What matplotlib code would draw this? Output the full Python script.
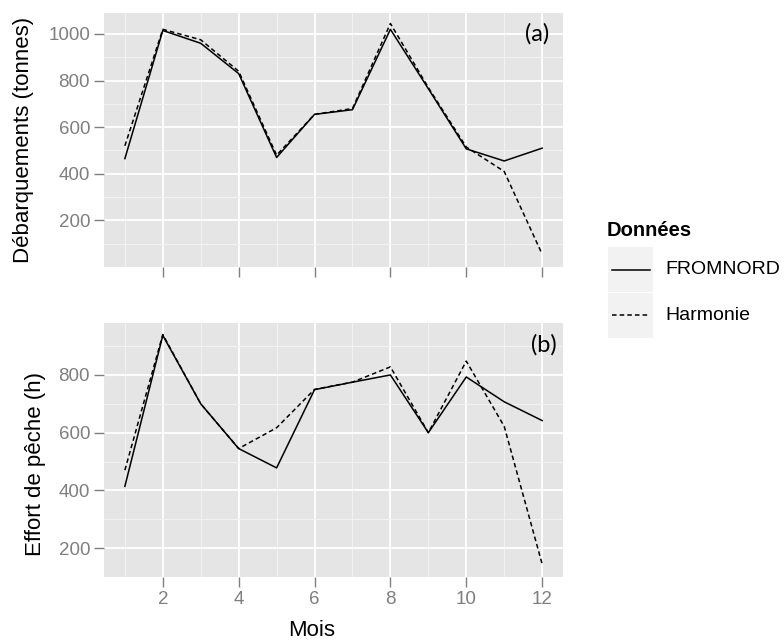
import matplotlib.pyplot as plt
from matplotlib.lines import Line2D
from matplotlib.patches import Rectangle

plt.rcParams['font.family'] = ['Liberation Sans', 'DejaVu Sans']

mois = [1, 2, 3, 4, 5, 6, 7, 8, 9, 10, 11, 12]
debarq_fromnord = [465, 1015, 960, 830, 470, 655, 675, 1020, 765, 507, 455, 510]
debarq_harmonie = [520, 1020, 975, 840, 480, 655, 680, 1045, 770, 515, 410, 55]
effort_fromnord = [414, 937, 700, 545, 478, 749, 775, 800, 600, 793, 707, 642]
effort_harmonie = [470, 940, 700, 545, 617, 750, 775, 828, 600, 848, 622, 145]
series_names = ['FROMNORD', 'Harmonie']
styles = ['-', (0, (3, 2))]

W, H = 784, 641
fig = plt.figure(figsize=(W / 100, H / 100), dpi=100)
ax1 = fig.add_axes([104 / W, 1 - 267 / H, 459 / W, 254 / H])
ax2 = fig.add_axes([104 / W, 1 - 577 / H, 459 / W, 254 / H])

grey = '#7F7F7F'


def style_axes(ax, yticks, yminor, ylim, show_xlabels):
    ax.set_facecolor('#E5E5E5')
    for s in ax.spines.values():
        s.set_visible(False)
    ax.set_xlim(0.45, 12.55)
    ax.set_ylim(*ylim)
    ax.set_xticks([2, 4, 6, 8, 10, 12])
    ax.set_xticks([1, 3, 5, 7, 9, 11], minor=True)
    ax.set_yticks(yticks)
    ax.set_yticks(yminor, minor=True)
    ax.grid(which='major', color='white', linewidth=1.3)
    ax.grid(which='minor', color='#F2F2F2', linewidth=0.8)
    ax.set_axisbelow(True)
    ax.tick_params(which='major', length=7, width=1, color=grey,
                   labelcolor=grey, labelsize=13.5, pad=3)
    ax.tick_params(which='minor', length=0)
    if not show_xlabels:
        ax.set_xticklabels([])


ax1.plot(mois, debarq_fromnord, color='black', linestyle=styles[0], linewidth=1.1)
ax1.plot(mois, debarq_harmonie, color='black', linestyle=styles[1], linewidth=1.1)
style_axes(ax1, [200, 400, 600, 800, 1000], [100, 300, 500, 700, 900],
           (0, 1090), False)

ax2.plot(mois, effort_fromnord, color='black', linestyle=styles[0], linewidth=1.1)
ax2.plot(mois, effort_harmonie, color='black', linestyle=styles[1], linewidth=1.1)
style_axes(ax2, [200, 400, 600, 800], [300, 500, 700, 900],
           (100, 980), True)

# axis titles placed where the reference has them
fig.text(24 / W, 1 - 140 / H, 'Débarquements (tonnes)', rotation=90,
         fontsize=16, ha='center', va='center')
fig.text(36 / W, 1 - 464 / H, 'Effort de pêche (h)', rotation=90,
         fontsize=16, ha='center', va='center')
fig.text(312 / W, 1 - 630 / H, 'Mois', fontsize=16, ha='center', va='center')

fig.text(537 / W, 1 - 34 / H, '(a)', fontsize=17, family='Lato',
         ha='center', va='center')
fig.text(544 / W, 1 - 345 / H, '(b)', fontsize=17, family='Lato',
         ha='center', va='center')

# legend drawn by hand, ggplot style
fig.text(607 / W, 1 - 230 / H, 'Données', fontsize=14.5, fontweight='bold',
         va='center', ha='left')
key_top = 247
key_h = 45
for i, name in enumerate(series_names):
    y0 = key_top + i * (key_h + 1)
    fig.patches.append(Rectangle((608 / W, 1 - (y0 + key_h) / H),
                                 45 / W, key_h / H,
                                 transform=fig.transFigure,
                                 facecolor='#F2F2F2', edgecolor='none'))
    yc = 1 - (y0 + key_h / 2) / H
    fig.lines.append(Line2D([612 / W, 650 / W], [yc, yc],
                            transform=fig.transFigure, color='black',
                            linestyle=styles[i], linewidth=1.1))
    fig.text(665 / W, yc, name, fontsize=14, va='center', ha='left')

fig.savefig('out.png', dpi=100)
